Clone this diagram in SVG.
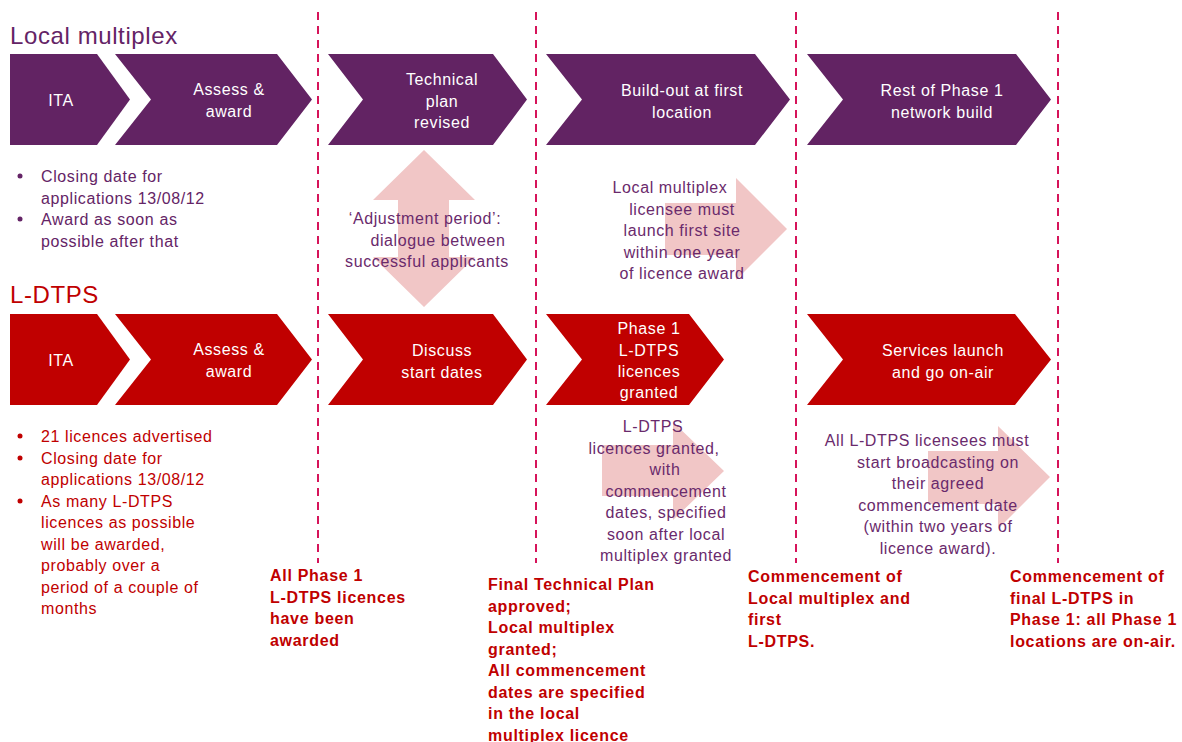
<svg xmlns="http://www.w3.org/2000/svg" width="1182" height="742" viewBox="0 0 1182 742">
<style>
text{font-family:"Liberation Sans",Arial,sans-serif}
.title{font-size:24px;letter-spacing:0.6px}
.pt{fill:#642466}
.rt{fill:#C00000}
.chev-p{fill:#622363}
.chev-r{fill:#C00000}
.ct{fill:#FFFFFF;font-size:16px;letter-spacing:0.6px;text-anchor:middle}
.body{font-size:16px;letter-spacing:0.6px}
.note{fill:#6A2A6C;font-size:16px;letter-spacing:0.6px;text-anchor:middle}
.bold{fill:#C00000;font-size:16px;font-weight:bold;letter-spacing:0.7px}
.div{stroke:#D6145A;stroke-width:2;stroke-dasharray:8 6;fill:none}
.pink{fill:#F1C6C6}
</style>
<rect width="1182" height="742" fill="#FFFFFF"/>

<g id="dividers">
<line class="div" x1="318" y1="12" x2="318" y2="563"/>
<line class="div" x1="536" y1="12" x2="536" y2="563"/>
<line class="div" x1="796" y1="12" x2="796" y2="563"/>
<line class="div" x1="1058" y1="12" x2="1058" y2="563"/>
</g>

<g id="connectors">
<polygon class="pink" points="424,150 475,200 449,200 449,257 475,257 424,307 373,257 398,257 398,200 373,200"/>
<polygon class="pink" points="665,203 736,203 736,178 787,229 736,280 736,255 665,255"/>
<polygon class="pink" points="602,445 673,445 673,422 724,471 673,520 673,496 602,496"/>
<polygon class="pink" points="928,451 998,451 998,426 1050,477 998,529 998,504 928,504"/>
</g>

<g id="title-local"><text class="title pt" x="10" y="44">Local multiplex</text></g>
<g id="title-ldtps"><text class="title rt" x="10" y="303">L-DTPS</text></g>

<g id="lm-ita">
<polygon class="chev-p" points="10,54 97,54 130,99.5 97,145 10,145"/>
<text class="ct" x="61" y="106">ITA</text>
</g>
<g id="lm-assess">
<polygon class="chev-p" points="115,54 277,54 312,99.5 277,145 115,145 151,99.5"/>
<text class="ct" x="229" y="95">Assess &amp;</text>
<text class="ct" x="229" y="117">award</text>
</g>
<g id="lm-technical">
<polygon class="chev-p" points="328,54 493,54 527,99.5 493,145 328,145 363,99.5"/>
<text class="ct" x="442" y="85">Technical</text>
<text class="ct" x="442" y="107">plan</text>
<text class="ct" x="442" y="128">revised</text>
</g>
<g id="lm-buildout">
<polygon class="chev-p" points="546,54 755,54 790,99.5 755,145 546,145 582,99.5"/>
<text class="ct" x="682" y="96">Build-out at first</text>
<text class="ct" x="682" y="118">location</text>
</g>
<g id="lm-rest">
<polygon class="chev-p" points="807,54 1016,54 1051,99.5 1016,145 807,145 843,99.5"/>
<text class="ct" x="942" y="96">Rest of Phase 1</text>
<text class="ct" x="942" y="118">network build</text>
</g>

<g id="lm-bullets">
<circle class="pt" cx="20" cy="176" r="2.5"/>
<circle class="pt" cx="20" cy="219" r="2.5"/>
<text class="body pt" x="41" y="182">Closing date for</text>
<text class="body pt" x="41" y="203.5">applications 13/08/12</text>
<text class="body pt" x="41" y="225">Award as soon as</text>
<text class="body pt" x="41" y="246.5">possible after that</text>
</g>

<g id="note-adjustment">
<text class="note" x="425" y="224">‘Adjustment period’:</text>
<text class="note" x="438" y="245.5">dialogue between</text>
<text class="note" x="427" y="267">successful applicants</text>
</g>

<g id="note-local-launch">
<text class="note" x="670" y="193">Local multiplex</text>
<text class="note" x="682" y="214.5">licensee must</text>
<text class="note" x="682" y="236">launch first site</text>
<text class="note" x="682" y="257.5">within one year</text>
<text class="note" x="682" y="279">of licence award</text>
</g>

<g id="ld-ita">
<polygon class="chev-r" points="10,314 97,314 130,359.5 97,405 10,405"/>
<text class="ct" x="61" y="366">ITA</text>
</g>
<g id="ld-assess">
<polygon class="chev-r" points="115,314 277,314 312,359.5 277,405 115,405 151,359.5"/>
<text class="ct" x="229" y="355">Assess &amp;</text>
<text class="ct" x="229" y="377">award</text>
</g>
<g id="ld-discuss">
<polygon class="chev-r" points="328,314 493,314 527,359.5 493,405 328,405 363,359.5"/>
<text class="ct" x="442" y="356">Discuss</text>
<text class="ct" x="442" y="378">start dates</text>
</g>
<g id="ld-granted">
<polygon class="chev-r" points="546,314 689,314 724,359.5 689,405 546,405 582,359.5"/>
<text class="ct" x="649" y="334">Phase 1</text>
<text class="ct" x="649" y="356">L-DTPS</text>
<text class="ct" x="649" y="377">licences</text>
<text class="ct" x="649" y="398">granted</text>
</g>
<g id="ld-services">
<polygon class="chev-r" points="807,314 1015,314 1051,359.5 1015,405 807,405 843,359.5"/>
<text class="ct" x="943" y="356">Services launch</text>
<text class="ct" x="943" y="378">and go on-air</text>
</g>

<g id="ld-bullets">
<circle class="rt" cx="20" cy="436" r="2.5"/>
<circle class="rt" cx="20" cy="458" r="2.5"/>
<circle class="rt" cx="20" cy="501" r="2.5"/>
<text class="body rt" x="41" y="442">21 licences advertised</text>
<text class="body rt" x="41" y="463.5">Closing date for</text>
<text class="body rt" x="41" y="485">applications 13/08/12</text>
<text class="body rt" x="41" y="506.5">As many L-DTPS</text>
<text class="body rt" x="41" y="528">licences as possible</text>
<text class="body rt" x="41" y="549.5">will be awarded,</text>
<text class="body rt" x="41" y="571">probably over a</text>
<text class="body rt" x="41" y="592.5">period of a couple of</text>
<text class="body rt" x="41" y="614">months</text>
</g>

<g id="note-ldtps-granted">
<text class="note" x="653" y="432">L-DTPS</text>
<text class="note" x="654" y="453.5">licences granted,</text>
<text class="note" x="665" y="475">with</text>
<text class="note" x="666" y="496.5">commencement</text>
<text class="note" x="666" y="518">dates, specified</text>
<text class="note" x="666" y="539.5">soon after local</text>
<text class="note" x="666" y="561">multiplex granted</text>
</g>

<g id="note-broadcast">
<text class="note" x="927" y="446">All L-DTPS licensees must</text>
<text class="note" x="938" y="467.5">start broadcasting on</text>
<text class="note" x="938" y="489">their agreed</text>
<text class="note" x="938" y="510.5">commencement date</text>
<text class="note" x="938" y="532">(within two years of</text>
<text class="note" x="938" y="553.5">licence award).</text>
</g>

<g id="milestone-1">
<text class="bold" x="270" y="581">All Phase 1</text>
<text class="bold" x="270" y="602.5">L-DTPS licences</text>
<text class="bold" x="270" y="624">have been</text>
<text class="bold" x="270" y="645.5">awarded</text>
</g>
<g id="milestone-2">
<text class="bold" x="488" y="590">Final Technical Plan</text>
<text class="bold" x="488" y="611.5">approved;</text>
<text class="bold" x="488" y="633">Local multiplex</text>
<text class="bold" x="488" y="654.5">granted;</text>
<text class="bold" x="488" y="676">All commencement</text>
<text class="bold" x="488" y="697.5">dates are specified</text>
<text class="bold" x="488" y="719">in the local</text>
<text class="bold" x="488" y="740.5">multiplex licence</text>
</g>
<g id="milestone-3">
<text class="bold" x="748" y="582">Commencement of</text>
<text class="bold" x="748" y="603.5">Local multiplex and</text>
<text class="bold" x="748" y="625">first</text>
<text class="bold" x="748" y="646.5">L-DTPS.</text>
</g>
<g id="milestone-4">
<text class="bold" x="1010" y="582">Commencement of</text>
<text class="bold" x="1010" y="603.5">final L-DTPS in</text>
<text class="bold" x="1010" y="625">Phase 1: all Phase 1</text>
<text class="bold" x="1010" y="646.5">locations are on-air.</text>
</g>
</svg>
